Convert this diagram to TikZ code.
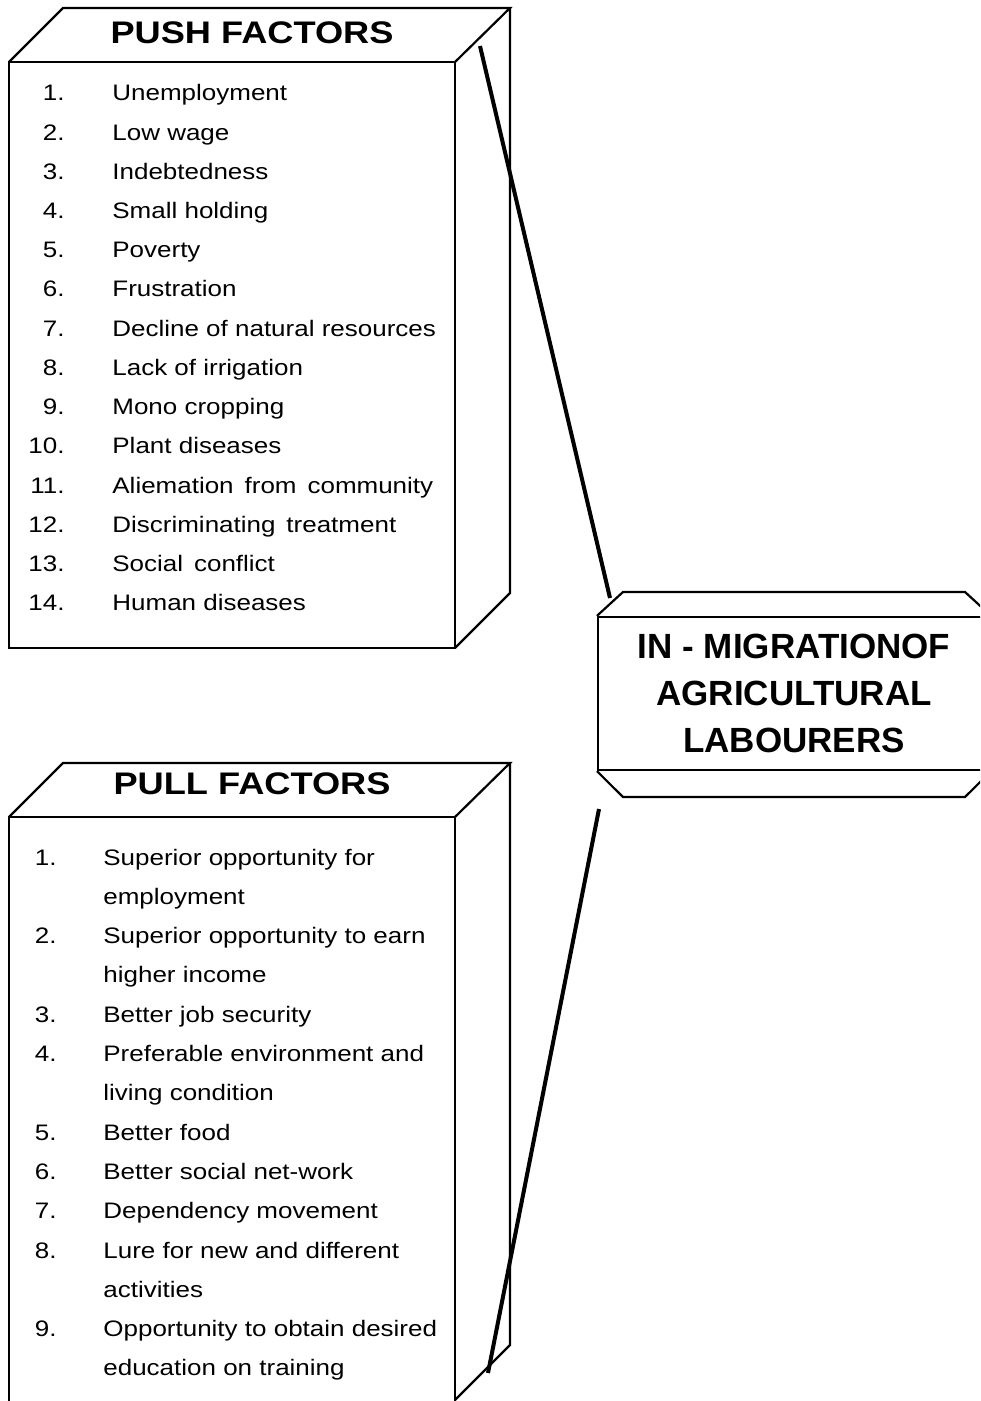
\documentclass[tikz,border=0pt]{standalone}
\usepackage{fontspec}
\setmainfont{Liberation Sans}
\newfontfamily\widefont[FakeStretch=1.16]{Liberation Sans}
\tikzset{
  edge/.style={line width=1.1pt,line join=miter},
  link/.style={line width=2pt},
  item/.style={inner sep=0pt,anchor=base west,font=\widefont\fontsize{11.2}{13}\selectfont},
  num/.style={inner sep=0pt,anchor=base east,font=\widefont\fontsize{11.2}{13}\selectfont},
  heading/.style={inner sep=0pt,anchor=base,font=\widefont\bfseries\fontsize{15.6}{18}\selectfont}
}

\begin{document}
\begin{tikzpicture}[x=0.5pt,y=-0.5pt]
  \useasboundingbox (0,0) rectangle (980,1401);
  \clip (0,0) rectangle (980,1401);
  \draw[edge] (9,62) rectangle (455,648);
  \draw[edge] (9,62) -- (63,8) -- (510,8) -- (455,62);
  \draw[edge] (510,8) -- (510,593) -- (455,648);
  \node[heading] (pushtitle) at (252,44) {PUSH FACTORS};
  \foreach \i/\txt in {1/Unemployment,2/Low wage,3/Indebtedness,4/Small holding,
      5/Poverty,6/Frustration,7/Decline of natural resources,8/Lack of irrigation,
      9/Mono cropping,10/Plant diseases,11/Aliemation\ \,from\ \,community,
      12/Discriminating\ \,treatment,13/Social\ \,conflict,14/Human diseases} {
    \node[num] (pushnum\i) at (65,{101+39.2*(\i-1)}) {\i.};
    \node[item] (push\i) at (112,{101+39.2*(\i-1)}) {\txt};
  }
  \draw[edge] (9,817) rectangle (455,1404);
  \draw[edge] (9,817) -- (63,763) -- (510,763) -- (455,817);
  \draw[edge] (510,763) -- (510,1345) -- (455,1400);
  \node[heading] (pulltitle) at (252,794) {PULL FACTORS};
  \foreach \i/\r in {1/0,2/2,3/4,4/5,5/7,6/8,7/9,8/10,9/12} {
    \node[num] (pullnum\i) at (57,{865+39.3*\r}) {\i.};
  }
  \foreach \r/\txt in {0/Superior opportunity for,1/employment,
      2/Superior opportunity to earn,3/higher income,4/Better job security,
      5/Preferable environment and,6/living condition,7/Better food,
      8/Better social net-work,9/Dependency movement,10/Lure for new and different,
      11/activities,12/Opportunity to obtain desired,13/education on training} {
    \node[item] (pull\r) at (103,{865+39.3*\r}) {\txt};
  }
  \node[draw,edge,minimum width=196pt,minimum height=76.5pt,align=center,
    font=\bfseries\fontsize{17.5}{23.5}\selectfont] (mig) at (794,693.5)
    {IN - MIGRATIONOF\\AGRICULTURAL\\LABOURERS};
  \draw[edge] (mig.north west) -- (623,592) -- (965,592) -- (mig.north east);
  \draw[edge] (mig.south west) -- (623,797) -- (965,797) -- (mig.south east);
  \coordinate (pushfoot) at (480,46);
  \coordinate (migtop) at (610,598);
  \coordinate (migfoot) at (599,809);
  \coordinate (pullfoot) at (488,1373);
  \draw[link] (pushfoot) -- (migtop);
  \draw[link] (migfoot) -- (pullfoot);
\end{tikzpicture}
\end{document}
